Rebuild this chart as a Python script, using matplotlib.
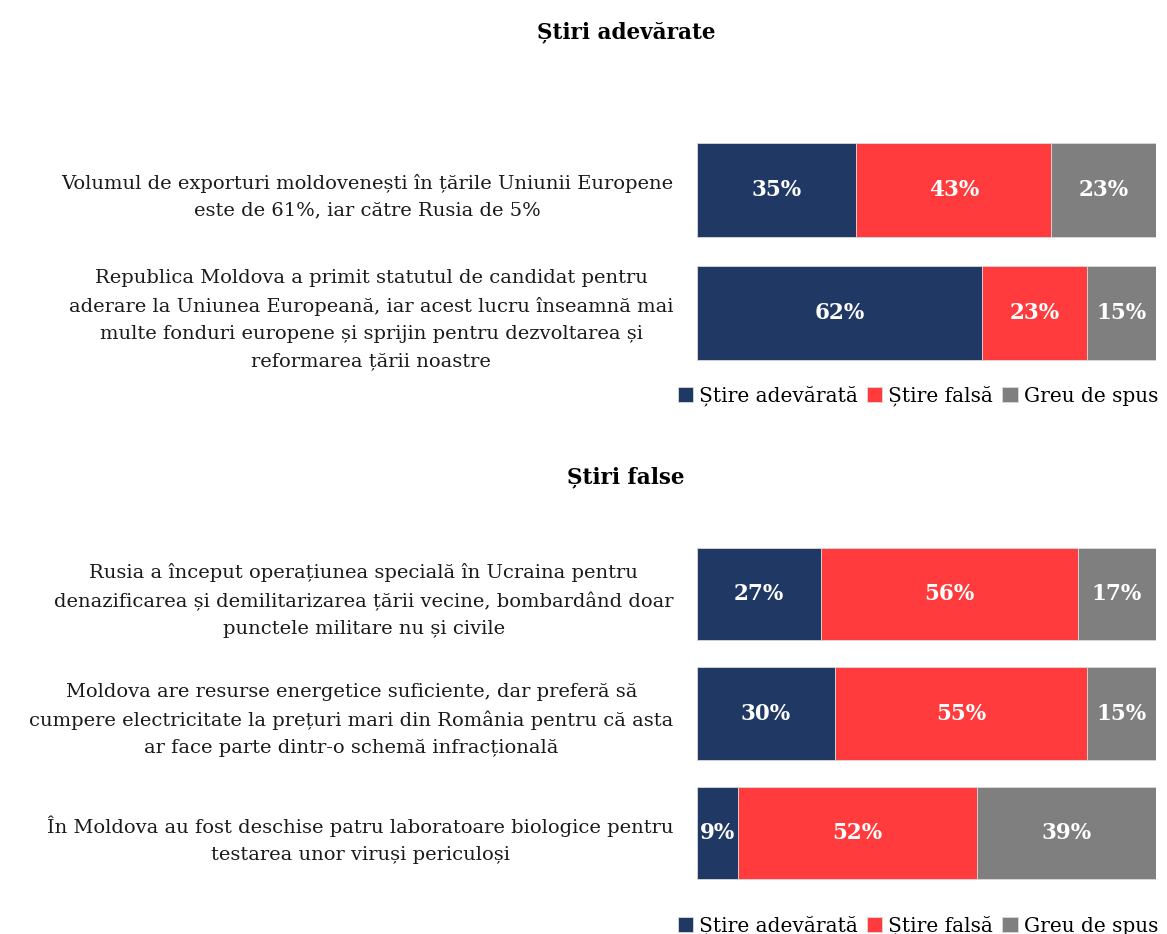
import matplotlib.pyplot as plt
import numpy as np

plt.rcParams["font.family"] = ["DejaVu Serif"]

series = ["Știre adevărată", "Știre falsă", "Greu de spus"]
colors = ["#203864", "#FF3B3D", "#7F7F7F"]

true_items = [
    "Volumul de exporturi moldovenești în țările Uniunii Europene\neste de 61%, iar către Rusia de 5%",
    "Republica Moldova a primit statutul de candidat pentru\naderare la Uniunea Europeană, iar acest lucru înseamnă mai\nmulte fonduri europene și sprijin pentru dezvoltarea și\nreformarea țării noastre",
]
true_adevarata = [35, 62]
true_falsa = [43, 23]
true_greu = [23, 15]

false_items = [
    "Rusia a început operațiunea specială în Ucraina pentru\ndenazificarea și demilitarizarea țării vecine, bombardând doar\npunctele militare nu și civile",
    "Moldova are resurse energetice suficiente, dar preferă să\ncumpere electricitate la prețuri mari din România pentru că asta\nar face parte dintr-o schemă infracțională",
    "În Moldova au fost deschise patru laboratoare biologice pentru\ntestarea unor viruși periculoși",
]
false_adevarata = [27, 30, 9]
false_falsa = [56, 55, 52]
false_greu = [17, 15, 39]

W, H = 1167, 934
fig = plt.figure(figsize=(W / 100, H / 100), dpi=100)


def px_axes(x0, x1, y0, y1):
    return fig.add_axes([x0 / W, 1 - y1 / H, (x1 - x0) / W, (y1 - y0) / H])


def draw_panel(ax, items, values, legend_y):
    vals = np.array(values, dtype=float)
    shares = vals / vals.sum(axis=0) * 100  # 100% stacked
    ypos = np.arange(len(items))
    left = np.zeros(len(items))
    handles = []
    for k, name in enumerate(series):
        b = ax.barh(ypos, shares[k], left=left, height=0.77, color=colors[k],
                    edgecolor="#d9d9d9", linewidth=0.6, label=name)
        handles.append(b)
        for i in range(len(items)):
            ax.text(left[i] + shares[k][i] / 2, ypos[i], f"{int(vals[k][i])}%",
                    ha="center", va="center", color="white",
                    fontsize=15.5, fontweight="bold")
        left += shares[k]
    ax.set_xlim(0, 100)
    ax.set_ylim(len(items) - 0.5, -0.5)
    ax.set_yticks(ypos)
    ax.set_yticklabels(items, fontsize=14, multialignment="center",
                       color="#1a1a1a", linespacing=1.65)
    ax.tick_params(axis="y", length=0, pad=17)
    ax.set_xticks([])
    for s in ax.spines.values():
        s.set_visible(False)
    fig.legend(handles=handles, loc="center right",
               bbox_to_anchor=(1166 / W, 1 - legend_y / H), ncol=3,
               frameon=False, fontsize=14.5, handlelength=0.75, handleheight=0.75,
               handletextpad=0.3, columnspacing=0.45, borderaxespad=0)


ax1 = px_axes(697, 1156, 129, 374)
draw_panel(ax1, true_items, [true_adevarata, true_falsa, true_greu], 396)
fig.text(626 / W, 1 - 32 / H, "Știri adevărate", ha="center", va="center",
         fontsize=15.5, fontweight="bold")

ax2 = px_axes(697, 1156, 534, 893)
draw_panel(ax2, false_items, [false_adevarata, false_falsa, false_greu], 926)
fig.text(626 / W, 1 - 477 / H, "Știri false", ha="center", va="center",
         fontsize=15.5, fontweight="bold")

fig.savefig("out.png", dpi=100, facecolor="white")
